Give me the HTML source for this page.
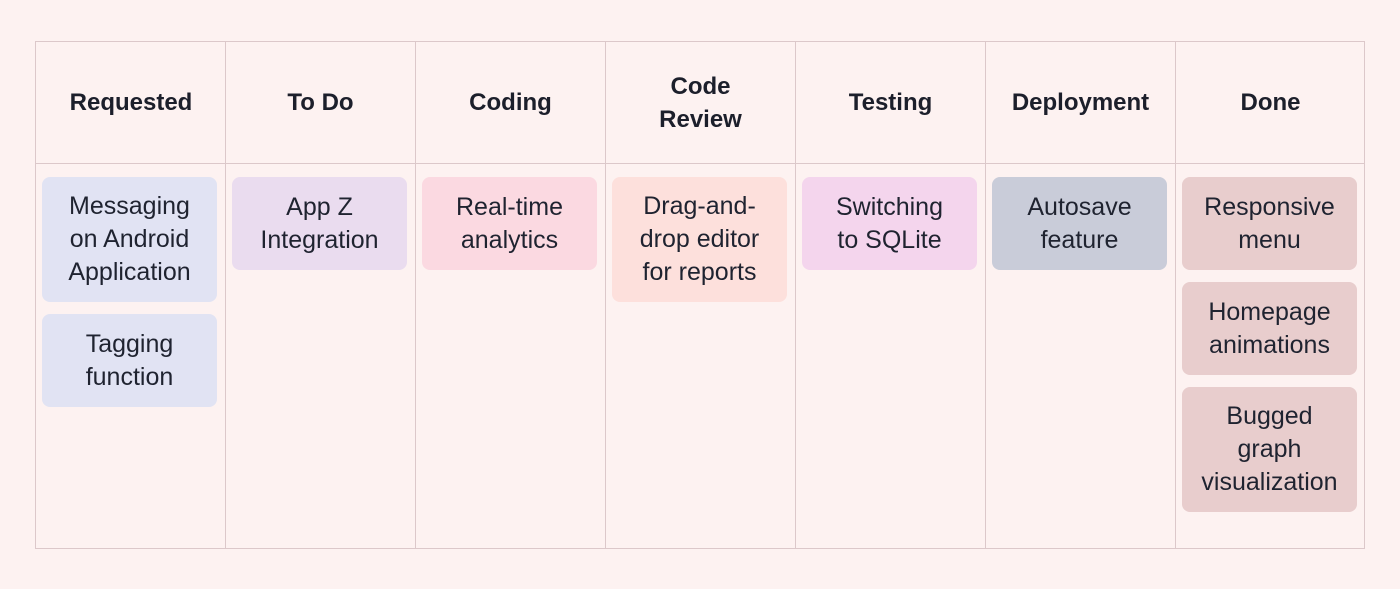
<!DOCTYPE html>
<html><head><meta charset="utf-8"><style>
body{margin:0;width:1400px;height:589px;background:#fdf2f1;font-family:"Liberation Sans",sans-serif;overflow:hidden}
.board{position:absolute;left:35px;top:41px;width:1330px;height:508px;border:1.5px solid #dcc8ca;box-sizing:border-box}
.col{position:absolute;top:0;width:190px;height:100%;border-left:1.5px solid #dcc8ca;box-sizing:border-box}
.col:first-child{border-left:none}
.hd{height:122px;border-bottom:1.5px solid #dcc8ca;box-sizing:border-box;display:flex;align-items:center;justify-content:center;text-align:center;font-weight:bold;font-size:24px;line-height:33px;color:#1c1f2b}
.cards{padding:13px 7px 0 6px}
.card{border-radius:8px;width:175px;box-sizing:border-box;padding:13px 0;margin-bottom:12px;text-align:center;font-size:25px;line-height:33px;color:#1f2330;min-height:93px;display:flex;align-items:center;justify-content:center;white-space:nowrap}
</style></head><body>
<div class="board">
<div class="col" style="left:0"><div class="hd">Requested</div><div class="cards">
<div class="card" style="background:#e1e3f3">Messaging<br>on Android<br>Application</div>
<div class="card" style="background:#e1e3f3">Tagging<br>function</div></div></div>
<div class="col" style="left:189px"><div class="hd">To Do</div><div class="cards">
<div class="card" style="background:#eadcef">App Z<br>Integration</div></div></div>
<div class="col" style="left:379px"><div class="hd">Coding</div><div class="cards">
<div class="card" style="background:#fbd9e1">Real-time<br>analytics</div></div></div>
<div class="col" style="left:569px"><div class="hd">Code<br>Review</div><div class="cards">
<div class="card" style="background:#fde0dc">Drag-and-<br>drop editor<br>for reports</div></div></div>
<div class="col" style="left:759px"><div class="hd">Testing</div><div class="cards">
<div class="card" style="background:#f4d5ed">Switching<br>to SQLite</div></div></div>
<div class="col" style="left:949px"><div class="hd">Deployment</div><div class="cards">
<div class="card" style="background:#c9ccd9">Autosave<br>feature</div></div></div>
<div class="col" style="left:1139px"><div class="hd">Done</div><div class="cards">
<div class="card" style="background:#e8cdcd">Responsive<br>menu</div>
<div class="card" style="background:#e8cdcd">Homepage<br>animations</div>
<div class="card" style="background:#e8cdcd">Bugged<br>graph<br>visualization</div></div></div>
</div>
</body></html>
